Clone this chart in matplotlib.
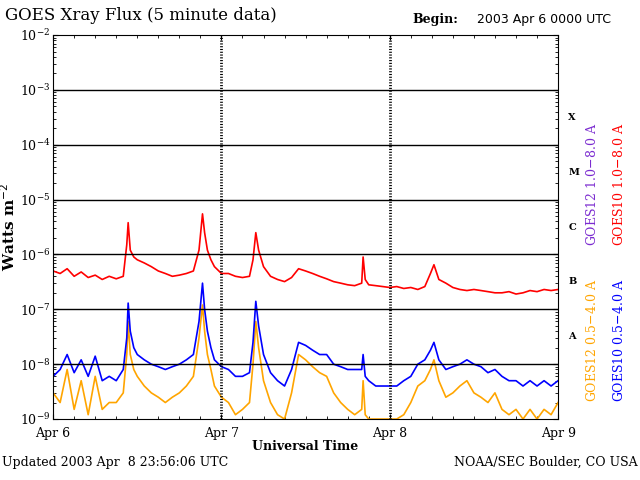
import matplotlib
matplotlib.use("Agg")
import matplotlib.pyplot as plt

# hours since 2003 Apr 6 0000 UTC, flux in W m^-2
long_t = [0, 1, 2, 3, 4, 5, 6, 7, 8, 9, 10, 10.5, 10.7, 11, 11.5, 12, 13, 14, 15, 16, 17, 18,
          19, 20, 20.8, 21.3, 21.6, 22, 22.5, 23, 24, 25, 26, 27, 28, 28.5, 28.9, 29.3, 30, 31,
          32, 33, 34, 35, 36, 37, 38, 39, 40, 41, 42, 43, 44, 44.2, 44.5, 45, 46, 47, 48, 49,
          50, 51, 52, 53, 53.8, 54.3, 55, 56, 57, 58, 59, 60, 61, 62, 63, 64, 65, 66, 67, 68,
          69, 70, 71, 72]
long_v = [5e-7, 4.5e-7, 5.5e-7, 4e-7, 4.8e-7, 3.8e-7, 4.2e-7, 3.5e-7, 4e-7, 3.6e-7, 4e-7,
          1.5e-6, 3.8e-6, 1.2e-6, 9e-7, 8e-7, 7e-7, 6e-7, 5e-7, 4.5e-7, 4e-7, 4.2e-7, 4.5e-7,
          5e-7, 1.2e-6, 5.5e-6, 2.5e-6, 1.2e-6, 8e-7, 6e-7, 4.5e-7, 4.5e-7, 4e-7, 3.8e-7, 4e-7,
          8e-7, 2.5e-6, 1.2e-6, 6e-7, 4e-7, 3.5e-7, 3.2e-7, 3.8e-7, 5.5e-7, 5e-7, 4.5e-7, 4e-7,
          3.6e-7, 3.2e-7, 3e-7, 2.8e-7, 2.7e-7, 3e-7, 9e-7, 3.5e-7, 2.8e-7, 2.7e-7, 2.6e-7,
          2.5e-7, 2.6e-7, 2.4e-7, 2.5e-7, 2.3e-7, 2.6e-7, 4.5e-7, 6.5e-7, 3.5e-7, 3e-7, 2.5e-7,
          2.3e-7, 2.2e-7, 2.3e-7, 2.2e-7, 2.1e-7, 2e-7, 2e-7, 2.1e-7, 1.9e-7, 2e-7, 2.2e-7,
          2.1e-7, 2.3e-7, 2.2e-7, 2.3e-7]

short_t = [0, 1, 2, 3, 4, 5, 6, 7, 8, 9, 10, 10.5, 10.7, 11, 11.5, 12, 13, 14, 15, 16, 17, 18,
           19, 20, 20.8, 21.3, 21.6, 22, 22.5, 23, 24, 25, 26, 27, 28, 28.5, 28.9, 29.3, 30, 31,
           32, 33, 34, 35, 36, 37, 38, 39, 40, 41, 42, 43, 44, 44.2, 44.5, 45, 46, 47, 48, 49,
           50, 51, 52, 53, 53.8, 54.3, 55, 56, 57, 58, 59, 60, 61, 62, 63, 64, 65, 66, 67, 68,
           69, 70, 71, 72]
blue_v = [6e-9, 8e-9, 1.5e-8, 7e-9, 1.2e-8, 6e-9, 1.4e-8, 5e-9, 6e-9, 5e-9, 8e-9, 3e-8,
          1.3e-7, 4e-8, 2e-8, 1.5e-8, 1.2e-8, 1e-8, 9e-9, 8e-9, 9e-9, 1e-8, 1.2e-8, 1.5e-8,
          6e-8, 3e-7, 1e-7, 4e-8, 2e-8, 1.2e-8, 9e-9, 8e-9, 6e-9, 6e-9, 7e-9, 2.5e-8, 1.4e-7,
          5e-8, 1.5e-8, 7e-9, 5e-9, 4e-9, 8e-9, 2.5e-8, 2.2e-8, 1.8e-8, 1.5e-8, 1.5e-8, 1e-8,
          9e-9, 8e-9, 8e-9, 8e-9, 1.5e-8, 6e-9, 5e-9, 4e-9, 4e-9, 4e-9, 4e-9, 5e-9, 6e-9,
          1e-8, 1.2e-8, 1.8e-8, 2.5e-8, 1.2e-8, 8e-9, 9e-9, 1e-8, 1.2e-8, 1e-8, 9e-9, 7e-9,
          8e-9, 6e-9, 5e-9, 5e-9, 4e-9, 5e-9, 4e-9, 5e-9, 4e-9, 5e-9]
orange_v = [3e-9, 2e-9, 8e-9, 1.5e-9, 5e-9, 1.2e-9, 6e-9, 1.5e-9, 2e-9, 2e-9, 3e-9, 1.5e-8,
            6e-8, 1.5e-8, 8e-9, 6e-9, 4e-9, 3e-9, 2.5e-9, 2e-9, 2.5e-9, 3e-9, 4e-9, 6e-9,
            3e-8, 1.2e-7, 4e-8, 1.5e-8, 8e-9, 4e-9, 2.5e-9, 2e-9, 1.2e-9, 1.5e-9, 2e-9, 1e-8,
            6e-8, 2e-8, 5e-9, 2e-9, 1.2e-9, 1e-9, 3e-9, 1.5e-8, 1.2e-8, 9e-9, 7e-9, 6e-9, 3e-9,
            2e-9, 1.5e-9, 1.2e-9, 1.5e-9, 5e-9, 1.2e-9, 1e-9, 1e-9, 1e-9, 1e-9, 1e-9, 1.2e-9,
            2e-9, 4e-9, 5e-9, 8e-9, 1.2e-8, 5e-9, 2.5e-9, 3e-9, 4e-9, 5e-9, 3e-9, 2.5e-9, 2e-9,
            3e-9, 1.5e-9, 1.2e-9, 1.5e-9, 1e-9, 1.5e-9, 1e-9, 1.5e-9, 1.2e-9, 2e-9]

day_labels = ["Apr 6", "Apr 7", "Apr 8", "Apr 9"]
class_labels = ["A", "B", "C", "M", "X"]

SERIF = "DejaVu Serif"

fig = plt.figure(figsize=(6.4, 4.8), dpi=100)
ax = fig.add_axes([0.083, 0.127, 0.789, 0.8])

ax.plot(short_t, orange_v, color="orange", lw=1.2)
ax.plot(short_t, blue_v, color="blue", lw=1.2)
ax.plot(long_t, long_v, color="red", lw=1.2)

ax.set_yscale("log")
ax.set_ylim(1e-9, 1e-2)
ax.set_xlim(0, 72)
for e in range(-8, -2):
    ax.axhline(10.0 ** e, color="black", lw=1)
for d in (24, 48):
    ax.axvline(d, color="black", lw=2, ls=(0, (0.4, 0.6)))
ax.set_xticks([0, 24, 48, 72])
ax.set_xticklabels(day_labels, family=SERIF, fontsize=9)
ax.set_xticks(range(0, 73, 3), minor=True)
ax.tick_params(axis="both", direction="in", top=True, right=True, which="both")
ax.tick_params(axis="x", pad=6)
ax.tick_params(axis="y", labelsize=9, pad=2)
for lab in ax.get_yticklabels():
    lab.set_family(SERIF)
ax.set_xlabel("Universal Time", family=SERIF, fontweight="bold", fontsize=9, labelpad=0)
ax.set_ylabel("Watts m$^{-2}$", family=SERIF, fontweight="bold", fontsize=11, labelpad=1)

for i, c in enumerate(class_labels):
    ax.text(1.02, (i + 1.5) / 7, c, transform=ax.transAxes, family=SERIF,
            fontweight="bold", fontsize=7, va="center")

fig.text(0.925, 0.615, "GOES12 1.0$-$8.0 A", color="#7b2bd0", rotation=90,
         ha="center", va="center", family=SERIF, fontsize=9)
fig.text(0.967, 0.615, "GOES10 1.0$-$8.0 A", color="red", rotation=90,
         ha="center", va="center", family=SERIF, fontsize=9)
fig.text(0.925, 0.29, "GOES12 0.5$-$4.0 A", color="orange", rotation=90,
         ha="center", va="center", family=SERIF, fontsize=9)
fig.text(0.967, 0.29, "GOES10 0.5$-$4.0 A", color="blue", rotation=90,
         ha="center", va="center", family=SERIF, fontsize=9)

fig.text(0.008, 0.958, "GOES Xray Flux (5 minute data)", family=SERIF, fontsize=12)
fig.text(0.645, 0.952, "Begin:", family=SERIF, fontweight="bold", fontsize=9)
fig.text(0.745, 0.952, "2003 Apr 6 0000 UTC", family="DejaVu Sans", fontsize=9)
fig.text(0.003, 0.03, "Updated 2003 Apr  8 23:56:06 UTC", family=SERIF, fontsize=9)
fig.text(0.997, 0.03, "NOAA/SEC Boulder, CO USA", family=SERIF, fontsize=9, ha="right")

fig.savefig("out.png", dpi=100)
